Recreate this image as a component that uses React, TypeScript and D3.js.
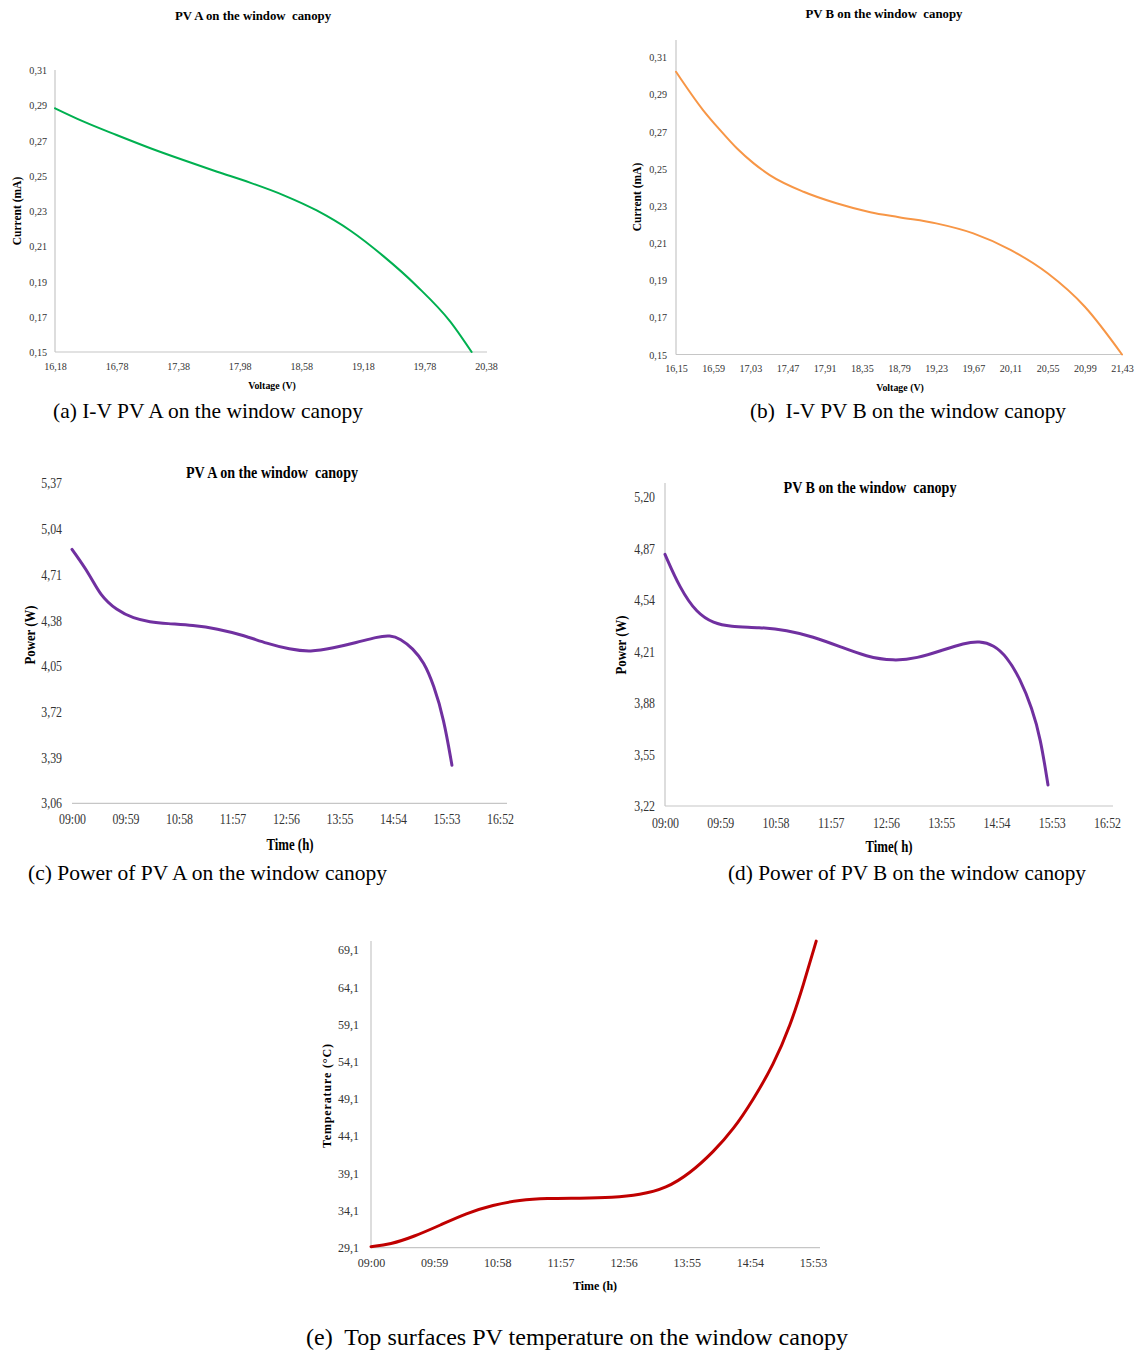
import { useEffect, useRef } from "react"
import * as d3 from "d3"

// I-V curve, PV A
const ivVoltageA = [16.18, 16.46, 16.78, 17.11, 17.43, 17.76, 18.08, 18.41, 18.73, 19.06, 19.38, 19.71, 20.03, 20.24]
const ivCurrentA = [0.2883, 0.2807, 0.2731, 0.2656, 0.2589, 0.2523, 0.2461, 0.2389, 0.2303, 0.2188, 0.2044, 0.1872, 0.1674, 0.15]
const ivTicksA = [16.18, 16.78, 17.38, 17.98, 18.58, 19.18, 19.78, 20.38]

// I-V curve, PV B
const ivVoltageB = [16.15, 16.47, 16.67, 16.87, 17.07, 17.26, 17.66, 18.05, 18.45, 18.79, 19.23, 19.67, 20.11, 20.55, 20.99, 21.43]
const ivCurrentB = [0.3022, 0.2816, 0.2709, 0.261, 0.2529, 0.2466, 0.2376, 0.2314, 0.2266, 0.2239, 0.2206, 0.2152, 0.2063, 0.1937, 0.1757, 0.15]
const ivTicksB = [16.15, 16.59, 17.03, 17.47, 17.91, 18.35, 18.79, 19.23, 19.67, 20.11, 20.55, 20.99, 21.43]

const currentTicks = [0.15, 0.17, 0.19, 0.21, 0.23, 0.25, 0.27, 0.29, 0.31]

// power over the day, minutes after 09:00
const powerTimeA = [0, 20, 31, 49, 68, 86, 104, 134, 160, 189, 215, 240, 263, 288, 314, 336, 351, 362, 376, 388, 399, 410, 419]
const powerA = [4.893, 4.707, 4.562, 4.454, 4.394, 4.369, 4.357, 4.345, 4.321, 4.273, 4.213, 4.172, 4.152, 4.181, 4.22, 4.261, 4.273, 4.249, 4.177, 4.08, 3.913, 3.671, 3.335]
const powerTicksA = [3.06, 3.39, 3.72, 4.05, 4.38, 4.71, 5.04, 5.37]

const powerTimeB = [0, 16, 34, 52, 69, 101, 130, 158, 187, 215, 244, 269, 297, 319, 336, 351, 365, 379, 392, 401, 409]
const powerB = [4.834, 4.616, 4.456, 4.392, 4.37, 4.366, 4.349, 4.306, 4.242, 4.178, 4.15, 4.167, 4.221, 4.264, 4.278, 4.253, 4.178, 4.039, 3.847, 3.654, 3.355]
const powerTicksB = [3.22, 3.55, 3.88, 4.21, 4.54, 4.87, 5.2]

const timeTicks = [0, 59, 118, 177, 236, 295, 354, 413, 472]
const timeLabels = ["09:00", "09:59", "10:58", "11:57", "12:56", "13:55", "14:54", "15:53", "16:52"]

// top surface temperature
const tempTime = [0, 18, 40, 65, 89, 114, 139, 164, 195, 226, 251, 276, 298, 320, 339, 357, 376, 392, 404, 416]
const temperature = [29.24, 29.55, 30.58, 32.15, 33.72, 34.84, 35.51, 35.74, 35.74, 35.82, 36.18, 37.08, 39.08, 41.98, 45.05, 48.95, 53.65, 59.02, 64.4, 70.3]
const tempTicks = [29.1, 34.1, 39.1, 44.1, 49.1, 54.1, 59.1, 64.1, 69.1]

const FONT = "'Liberation Serif', 'Times New Roman', serif"
const AXIS = "#c6c6c6"
const TICK = "#333"

const comma = (d: number, n: number) => d.toFixed(n).replace(".", ",")

type Text = { text: string; x: number; y: number; size: number; sx?: number; rotate?: boolean; length?: number }

type Panel = {
  xs: number[]
  ys: number[]
  color: string
  width: number
  smooth: boolean
  xDomain: [number, number]
  xRange: [number, number]
  yDomain: [number, number]
  yRange: [number, number]
  xLineEnd: number
  yLineTop: number | null
  xTicks: number[]
  xLabels: string[]
  yTicks: number[]
  yLabels: string[]
  tickSize: number
  tickSx: number
  xPad: number
  yPad: number
  title?: Text
  xTitle: Text
  yTitle: Text
}

const panels: Panel[] = [
  {
    xs: ivVoltageA, ys: ivCurrentA, color: "#00b050", width: 2, smooth: false,
    xDomain: [16.18, 20.38], xRange: [55, 486], yDomain: [0.15, 0.31], yRange: [352, 70],
    xLineEnd: 487, yLineTop: 70,
    xTicks: ivTicksA, xLabels: ivTicksA.map((d) => comma(d, 2)),
    yTicks: currentTicks, yLabels: currentTicks.map((d) => comma(d, 2)),
    tickSize: 11, tickSx: 0.92, xPad: 10, yPad: 8,
    title: { text: "PV A on the window  canopy", x: 253, y: 16, size: 12.8 },
    xTitle: { text: "Voltage (V)", x: 272, y: 385, size: 11, sx: 0.9 },
    yTitle: { text: "Current (mA)", x: 17, y: 211, size: 11.5, rotate: true },
  },
  {
    xs: ivVoltageB, ys: ivCurrentB, color: "#f79646", width: 2, smooth: false,
    xDomain: [16.15, 21.43], xRange: [676, 1122], yDomain: [0.15, 0.31], yRange: [354.5, 57.3],
    xLineEnd: 1123, yLineTop: 40,
    xTicks: ivTicksB, xLabels: ivTicksB.map((d) => comma(d, 2)),
    yTicks: currentTicks, yLabels: currentTicks.map((d) => comma(d, 2)),
    tickSize: 11, tickSx: 0.92, xPad: 9.5, yPad: 9,
    title: { text: "PV B on the window  canopy", x: 884, y: 14, size: 12.8 },
    xTitle: { text: "Voltage (V)", x: 900, y: 387, size: 11, sx: 0.9 },
    yTitle: { text: "Current (mA)", x: 637, y: 197, size: 11.5, rotate: true },
  },
  {
    xs: powerTimeA, ys: powerA, color: "#7030a0", width: 3, smooth: true,
    xDomain: [0, 472], xRange: [72, 500], yDomain: [3.06, 5.37], yRange: [803.3, 483.3],
    xLineEnd: 507, yLineTop: null,
    xTicks: timeTicks, xLabels: timeLabels,
    yTicks: powerTicksA, yLabels: powerTicksA.map((d) => comma(d, 2)),
    tickSize: 14.5, tickSx: 0.82, xPad: 10.5, yPad: 10,
    title: { text: "PV A on the window  canopy", x: 272, y: 472, size: 17, sx: 0.83 },
    xTitle: { text: "Time (h)", x: 290, y: 844, size: 16, sx: 0.8 },
    yTitle: { text: "Power (W)", x: 30, y: 635, size: 15, sx: 0.85, rotate: true },
  },
  {
    xs: powerTimeB, ys: powerB, color: "#7030a0", width: 3, smooth: true,
    xDomain: [0, 472], xRange: [665, 1107], yDomain: [3.22, 5.2], yRange: [806, 497.3],
    xLineEnd: 1113, yLineTop: 483,
    xTicks: timeTicks, xLabels: timeLabels,
    yTicks: powerTicksB, yLabels: powerTicksB.map((d) => comma(d, 2)),
    tickSize: 14.5, tickSx: 0.82, xPad: 11.5, yPad: 10,
    title: { text: "PV B on the window  canopy", x: 870, y: 487, size: 17, sx: 0.83 },
    xTitle: { text: "Time( h)", x: 889, y: 846, size: 16, sx: 0.8 },
    yTitle: { text: "Power (W)", x: 621, y: 645, size: 15, sx: 0.85, rotate: true },
  },
  {
    xs: tempTime, ys: temperature, color: "#c00000", width: 3, smooth: true,
    xDomain: [0, 413], xRange: [371, 813], yDomain: [29.1, 69.1], yRange: [1247.7, 950],
    xLineEnd: 820, yLineTop: 941,
    xTicks: timeTicks.slice(0, 8), xLabels: timeLabels.slice(0, 8),
    yTicks: tempTicks, yLabels: tempTicks.map((d) => comma(d, 1)),
    tickSize: 12, tickSx: 1, xPad: 11, yPad: 12,
    xTitle: { text: "Time (h)", x: 595, y: 1286, size: 12 },
    yTitle: { text: "Temperature (°C)", x: 327, y: 1096, size: 12, rotate: true, length: 104 },
  },
]

const captions = [
  { text: "(a) I-V PV A on the window canopy", x: 53, y: 410, size: 21.5, length: 310 },
  { text: "(b)  I-V PV B on the window canopy", x: 750, y: 410, size: 21.5, length: 316 },
  { text: "(c) Power of PV A on the window canopy", x: 28, y: 872, size: 21.5, length: 359 },
  { text: "(d) Power of PV B on the window canopy", x: 728, y: 872, size: 21.5, length: 358 },
  { text: "(e)  Top surfaces PV temperature on the window canopy", x: 306, y: 1337, size: 24, length: 542 },
]

function boldText(svg: d3.Selection<SVGSVGElement, unknown, null, undefined>, t: Text) {
  const el = svg
    .append("text")
    .attr("transform", `translate(${t.x},${t.y}) rotate(${t.rotate ? -90 : 0}) scale(${t.sx ?? 1},1)`)
    .attr("text-anchor", "middle")
    .attr("dy", "0.35em")
    .attr("font-family", FONT)
    .attr("font-weight", "bold")
    .attr("font-size", t.size)
    .attr("fill", "#000")
    .style("white-space", "pre")
    .text(t.text)
  if (t.length) el.attr("textLength", t.length).attr("lengthAdjust", "spacing")
}

function drawPanel(svg: d3.Selection<SVGSVGElement, unknown, null, undefined>, p: Panel) {
  const x = d3.scaleLinear().domain(p.xDomain).range(p.xRange)
  const y = d3.scaleLinear().domain(p.yDomain).range(p.yRange)
  const base = y(p.yDomain[0])

  // axis lines
  svg
    .append("line")
    .attr("x1", x(p.xDomain[0]))
    .attr("x2", p.xLineEnd)
    .attr("y1", base)
    .attr("y2", base)
    .attr("stroke", AXIS)
    .attr("stroke-width", 1.2)
  if (p.yLineTop !== null) {
    svg
      .append("line")
      .attr("x1", x(p.xDomain[0]))
      .attr("x2", x(p.xDomain[0]))
      .attr("y1", base)
      .attr("y2", p.yLineTop)
      .attr("stroke", AXIS)
      .attr("stroke-width", 1.2)
  }

  // tick labels
  const xa = svg
    .append("g")
    .attr("transform", `translate(0,${base})`)
    .call(
      d3
        .axisBottom(x)
        .tickValues(p.xTicks)
        .tickFormat((_, i) => p.xLabels[i])
        .tickSize(0)
        .tickPadding(p.xPad),
    )
  xa.select(".domain").remove()
  xa.attr("font-family", FONT).attr("font-size", p.tickSize)
  xa.selectAll("text").attr("fill", TICK).attr("transform", `scale(${p.tickSx},1)`)

  const ya = svg
    .append("g")
    .attr("transform", `translate(${x(p.xDomain[0])},0)`)
    .call(
      d3
        .axisLeft(y)
        .tickValues(p.yTicks)
        .tickFormat((_, i) => p.yLabels[i])
        .tickSize(0)
        .tickPadding(p.yPad),
    )
  ya.select(".domain").remove()
  ya.attr("font-family", FONT).attr("font-size", p.tickSize)
  ya.selectAll("text")
    .attr("fill", TICK)
    .attr("x", -p.yPad / p.tickSx)
    .attr("transform", `scale(${p.tickSx},1)`)

  // the curve
  const pts = p.xs.map((v, i) => [v, p.ys[i]] as [number, number])
  const line = d3
    .line<[number, number]>()
    .x((d) => x(d[0]))
    .y((d) => y(d[1]))
    .curve(p.smooth ? d3.curveBasis : d3.curveMonotoneX)
  svg
    .append("path")
    .datum(pts)
    .attr("fill", "none")
    .attr("stroke", p.color)
    .attr("stroke-width", p.width)
    .attr("stroke-linecap", "round")
    .attr("d", line)

  if (p.title) boldText(svg, p.title)
  boldText(svg, p.xTitle)
  boldText(svg, p.yTitle)
}

export default function App() {
  const svgRef = useRef<SVGSVGElement>(null)

  useEffect(() => {
    if (!svgRef.current) return
    const svg = d3.select(svgRef.current)
    svg.selectAll("*").remove()

    panels.forEach((p) => drawPanel(svg, p))

    captions.forEach((c) => {
      svg
        .append("text")
        .attr("x", c.x)
        .attr("y", c.y)
        .attr("dy", "0.35em")
        .attr("font-family", FONT)
        .attr("font-size", c.size)
        .attr("fill", "#000")
        .attr("textLength", c.length)
        .attr("lengthAdjust", "spacingAndGlyphs")
        .style("white-space", "pre")
        .text(c.text)
    })
  }, [])

  return (
    <svg
      ref={svgRef}
      width={1142}
      height={1351}
      style={{ position: "absolute", left: 0, top: 0, background: "#fff" }}
    />
  )
}
